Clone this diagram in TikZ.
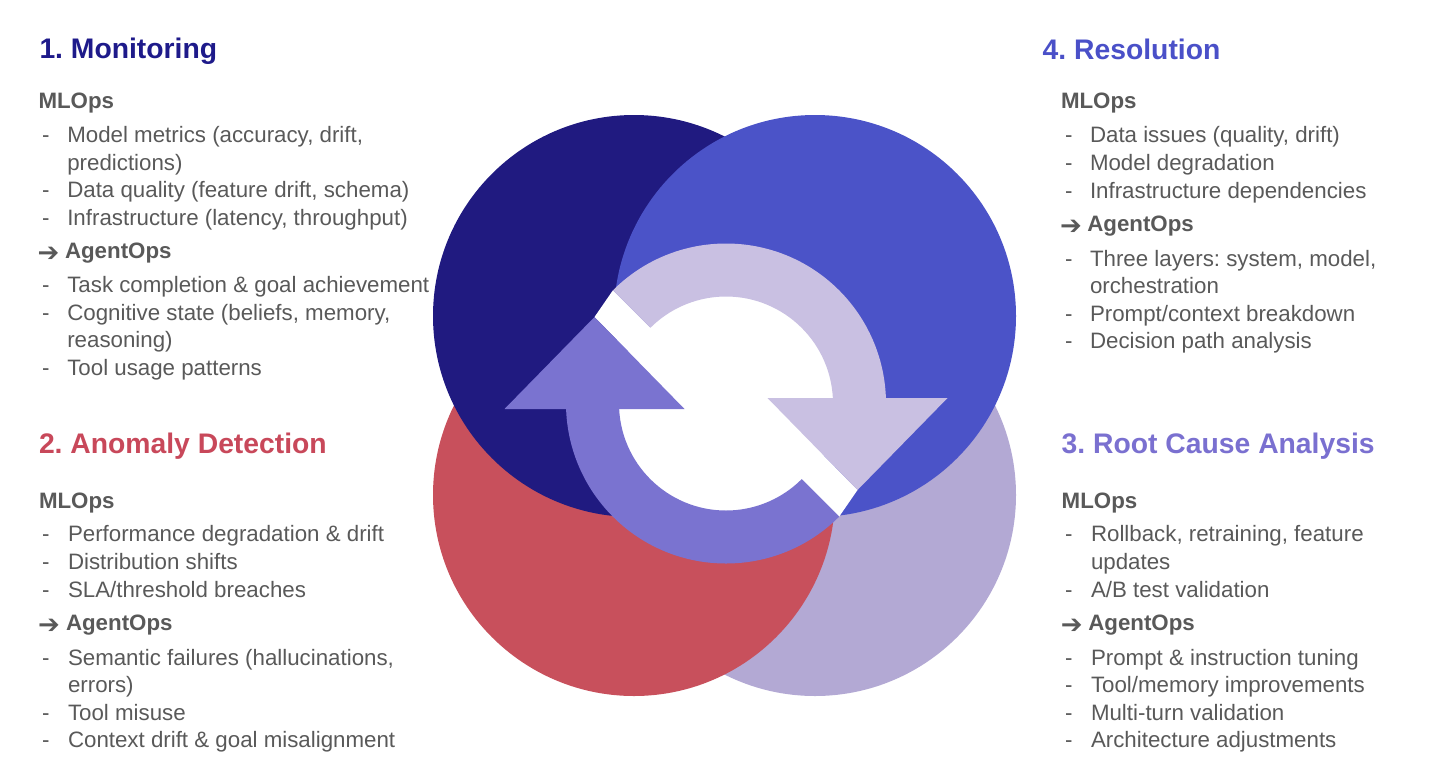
\documentclass[tikz,border=0pt]{standalone}
\usepackage{fontspec}
\setmainfont{Liberation Sans}
\newfontfamily\symfont{DejaVu Sans}
\usetikzlibrary{calc}
\frenchspacing
\definecolor{navyC}{HTML}{201A80}
\definecolor{blueC}{HTML}{4B53C8}
\definecolor{redC}{HTML}{C8505C}
\definecolor{lavC}{HTML}{B3A9D4}
\definecolor{ringL}{HTML}{C9C0E2}
\definecolor{ringP}{HTML}{7A73D0}
\definecolor{txtC}{HTML}{595959}
\definecolor{tNavy}{HTML}{1E1A8A}
\definecolor{tBlue}{HTML}{4A50C8}
\definecolor{tRed}{HTML}{C8485A}
\definecolor{tPurple}{HTML}{7A70D0}
\newcommand{\dashitem}[5]{%
  \node[body] (#1d) at (#2,#4) {-};
  \node[body] (#1) at (#3,#4) {#5};}
\begin{document}
\begin{tikzpicture}[x=1pt,y=-1pt,
  body/.style={anchor=base west, inner sep=0pt, outer sep=0pt, text=txtC,
    font=\frenchspacing\fontsize{22.3}{27.5}\selectfont},
  hdr/.style={body, font=\fontsize{22.3}{27.5}\selectfont\bfseries},
  ttl/.style={anchor=base west, inner sep=0pt, outer sep=0pt,
    font=\frenchspacing\fontsize{28.3}{34}\selectfont\bfseries},
  arr/.style={anchor=base west, inner sep=0pt, outer sep=0pt, text=txtC,
    font=\symfont\fontsize{26}{30}\selectfont},
  disc/.style={circle, inner sep=0pt, outer sep=0pt, minimum size=402pt}]
\useasboundingbox (0,0) rectangle (1456,780);

% circles
\node[disc, fill=lavC]  (cLav)  at (815,495) {};
\node[disc, fill=redC]  (cRed)  at (634,495) {};
\node[disc, fill=navyC] (cNavy) at (634,316) {};
\node[disc, fill=blueC] (cBlue) at (815,316) {};

% cycle arrows
\coordinate (C) at (726,403.5);
\fill[white] (C) circle[radius=108];
\fill[white] ([shift={(225:160)}]C) -- ([shift={(-131.5,-86.5)}]C) -- ([shift={(-41.5,5.5)}]C) -- (C) -- cycle;
\fill[white] ([shift={(45:160)}]C) -- ([shift={(131.5,86.5)}]C) -- ([shift={(41.5,-5.5)}]C) -- (C) -- cycle;
\fill[ringL] ([shift={(225:160)}]C) arc[start angle=225, end angle=358.03, radius=160]
  -- ([shift={(221.5,-5.5)}]C) -- ([shift={(131.5,86.5)}]C) -- ([shift={(41.5,-5.5)}]C)
  -- ([shift={(357.05:107)}]C) arc[start angle=357.05, end angle=225, radius=107] -- cycle;
\fill[ringP] ([shift={(45:160)}]C) arc[start angle=45, end angle=178.03, radius=160]
  -- ([shift={(-221.5,5.5)}]C) -- ([shift={(-131.5,-86.5)}]C) -- ([shift={(-41.5,5.5)}]C)
  -- ([shift={(177.05:107)}]C) arc[start angle=177.05, end angle=45, radius=107] -- cycle;

% 1. Monitoring
\node[ttl, text=tNavy] (t1) at (39.5,58.3) {1. Monitoring};
\node[hdr] (m1) at (38.5,108.3) {MLOps};
\dashitem{a1}{42}{67.3}{142.7}{Model metrics (accuracy, drift,}
\node[body] (a1b) at (67.3,170) {predictions)};
\dashitem{a2}{42}{67.3}{197.7}{Data quality (feature drift, schema)}
\dashitem{a3}{42}{67.3}{225}{Infrastructure (latency, throughput)}
\node[arr] (g1a) at (37.5,261.3) {➔};
\node[hdr] (g1) at (65,258.3) {AgentOps};
\dashitem{a4}{42}{67.3}{292.7}{Task completion \& goal achievement}
\dashitem{a5}{42}{67.3}{320}{Cognitive state (beliefs, memory,}
\node[body] (a5b) at (67.3,347.7) {reasoning)};
\dashitem{a6}{42}{67.3}{375}{Tool usage patterns}

% 4. Resolution
\node[ttl, text=tBlue] (t4) at (1042.7,59.3) {4. Resolution};
\node[hdr] (m4) at (1061,108.3) {MLOps};
\dashitem{d1}{1065}{1090}{142.7}{Data issues (quality, drift)}
\dashitem{d2}{1065}{1090}{170}{Model degradation}
\dashitem{d3}{1065}{1090}{198}{Infrastructure dependencies}
\node[arr] (g4a) at (1060.2,234) {➔};
\node[hdr] (g4) at (1087.3,231) {AgentOps};
\dashitem{d4}{1065}{1090}{266}{Three layers: system, model,}
\node[body] (d4b) at (1090,293.3) {orchestration};
\dashitem{d5}{1065}{1090}{321}{Prompt/context breakdown}
\dashitem{d6}{1065}{1090}{348.3}{Decision path analysis}

% 2. Anomaly Detection
\node[ttl, text=tRed] (t2) at (39,453.3) {2. Anomaly Detection};
\node[hdr] (m2) at (39,508.3) {MLOps};
\dashitem{b1}{42}{68}{541.7}{Performance degradation \& drift}
\dashitem{b2}{42}{68}{569.3}{Distribution shifts}
\dashitem{b3}{42}{68}{597.3}{SLA/threshold breaches}
\node[arr] (g2a) at (38.2,633.7) {➔};
\node[hdr] (g2) at (66,630.7) {AgentOps};
\dashitem{b4}{42}{68}{665}{Semantic failures (hallucinations,}
\node[body] (b4b) at (68,692.7) {errors)};
\dashitem{b5}{42}{68}{720}{Tool misuse}
\dashitem{b6}{42}{68}{747.7}{Context drift \& goal misalignment}

% 3. Root Cause Analysis
\node[ttl, text=tPurple] (t3) at (1061.7,453.3) {3. Root Cause Analysis};
\node[hdr] (m3) at (1061.7,508.3) {MLOps};
\dashitem{e1}{1065}{1091}{541.7}{Rollback, retraining, feature}
\node[body] (e1b) at (1091,569.3) {updates};
\dashitem{e2}{1065}{1091}{597.3}{A/B test validation}
\node[arr] (g3a) at (1060.9,633.7) {➔};
\node[hdr] (g3) at (1088.3,630.7) {AgentOps};
\dashitem{e3}{1065}{1091}{665}{Prompt \& instruction tuning}
\dashitem{e4}{1065}{1091}{692.7}{Tool/memory improvements}
\dashitem{e5}{1065}{1091}{720}{Multi-turn validation}
\dashitem{e6}{1065}{1091}{747.7}{Architecture adjustments}
\end{tikzpicture}
\end{document}
